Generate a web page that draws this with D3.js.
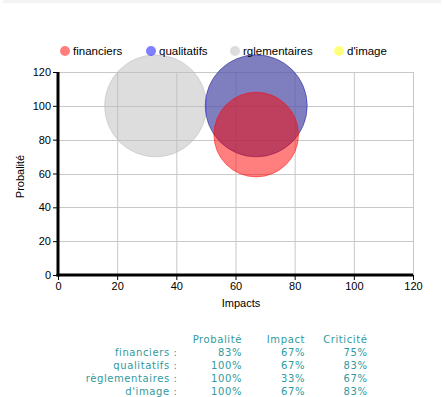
<!DOCTYPE html>
<html><head><meta charset="utf-8">
<script src="https://cdn.jsdelivr.net/npm/d3@7"></script>
<style>body{margin:0;background:#fff}svg{display:block}</style>
</head><body>
<script>
const categories = ["financiers", "qualitatifs", "rglementaires", "d'image"];
const tableLabels = ["financiers :", "qualitatifs :", "règlementaires :", "d'image :"];
const probabilite = [83, 100, 100, 100];
const impact = [67, 67, 33, 67];
const criticite = [75, 83, 67, 83];
const tableHeaders = ["Probalité", "Impact", "Criticité"];
const xTicks = [0, 20, 40, 60, 80, 100, 120];
const yTicks = [0, 20, 40, 60, 80, 100, 120];
const fills = ["rgba(255,0,0,0.5)", "rgba(0,0,255,0.5)", "rgba(187,187,187,0.5)", "rgba(255,255,0,0.5)"];
const strokes = ["rgba(255,0,0,0.5)", "rgba(0,0,255,0.45)", "rgba(187,187,187,0.5)", "rgba(255,255,0,0.5)"];

const W = 443, H = 397;
const svg = d3.select("body").append("svg").attr("width", W).attr("height", H);
svg.append("rect").attr("x", 3).attr("y", 0).attr("width", 438).attr("height", 3).attr("fill", "#f3f3f3");

const x = d3.scaleLinear().domain([0, 120]).range([58, 413]);
const y = d3.scaleLinear().domain([0, 120]).range([275, 72]);
const r = d3.scaleLinear().domain([0, 100]).range([0, 51]);
const font = "'Liberation Sans', Arial, sans-serif";

// grid
const g = svg.append("g");
g.selectAll("line.v").data(xTicks.slice(1)).join("line")
  .attr("x1", d => x(d) + 0.5).attr("x2", d => x(d) + 0.5)
  .attr("y1", y(120)).attr("y2", y(0)).attr("stroke", "#c8c8c8");
g.selectAll("line.h").data(yTicks.slice(1)).join("line")
  .attr("y1", d => Math.round(y(d)) + 0.5).attr("y2", d => Math.round(y(d)) + 0.5)
  .attr("x1", x(0)).attr("x2", x(120)).attr("stroke", "#c8c8c8");

// axes
const xAxis = d3.axisBottom(x).tickValues(xTicks).tickSize(5).tickPadding(2);
const yAxis = d3.axisLeft(y).tickValues(yTicks).tickSize(5).tickPadding(2);
const gx = svg.append("g").attr("transform", `translate(0,${y(0)})`).call(xAxis);
const gy = svg.append("g").attr("transform", `translate(${x(0)},0)`).call(yAxis);
[gx, gy].forEach(a => {
  a.select(".domain").remove();
  a.selectAll("text").attr("font-family", font).attr("font-size", 11).attr("fill", "#000");
  a.selectAll("line").attr("stroke", "#000");
});

// bubbles (drawn in reverse order)
const idx = d3.range(categories.length).reverse();
svg.append("g").selectAll("circle").data(idx).join("circle")
  .attr("cx", i => x(impact[i])).attr("cy", i => y(probabilite[i]))
  .attr("r", i => r(probabilite[i]))
  .attr("fill", i => fills[i]).attr("stroke", i => strokes[i]).attr("stroke-width", 1);

// axis lines (thick)
svg.append("line").attr("x1", x(0)).attr("x2", x(0)).attr("y1", y(120)).attr("y2", y(0) + 1.5)
  .attr("stroke", "#000").attr("stroke-width", 3);
svg.append("line").attr("x1", x(0) - 1.5).attr("x2", x(120)).attr("y1", y(0)).attr("y2", y(0))
  .attr("stroke", "#000").attr("stroke-width", 3);

// axis titles
svg.append("text").attr("x", 241).attr("y", 307).attr("text-anchor", "middle")
  .attr("font-family", font).attr("font-size", 11).text("Impacts");
svg.append("text").attr("transform", `translate(24,${(y(0) + y(120)) / 2 + 3}) rotate(-90)`)
  .attr("text-anchor", "middle").attr("font-family", font).attr("font-size", 11).text("Probalité");

// legend
const legX = [65, 151, 235, 339];
const lg = svg.append("g").selectAll("g").data(d3.range(categories.length)).join("g")
  .attr("transform", i => `translate(${legX[i]},51)`);
lg.append("circle").attr("r", 5).attr("fill", i => fills[i]);
lg.append("text").attr("x", 8).attr("y", 4).attr("font-family", font).attr("font-size", 11.5)
  .text(i => categories[i]);

// table
const tfont = "'DejaVu Sans', Verdana, sans-serif";
const teal = "#2f9a9e";
const colX = [242, 305, 367.5];
const rowY = [342.5, 355.5, 368.7, 382, 395];
const tg = svg.append("g").attr("font-family", tfont).attr("font-size", 10).attr("fill", teal)
  .attr("text-anchor", "end").attr("letter-spacing", 0.6);
tg.selectAll("text.h").data(tableHeaders).join("text").attr("x", (d, i) => colX[i]).attr("y", rowY[0]).text(d => d);
const rows = d3.range(tableLabels.length);
tg.selectAll("text.l").data(rows).join("text").attr("x", 177.5).attr("y", i => rowY[i + 1]).text(i => tableLabels[i]);
const cols = [probabilite, impact, criticite];
rows.forEach(i => {
  cols.forEach((c, j) => {
    tg.append("text").attr("x", colX[j]).attr("y", rowY[i + 1]).text(c[i] + "%");
  });
});
</script>
</body></html>
